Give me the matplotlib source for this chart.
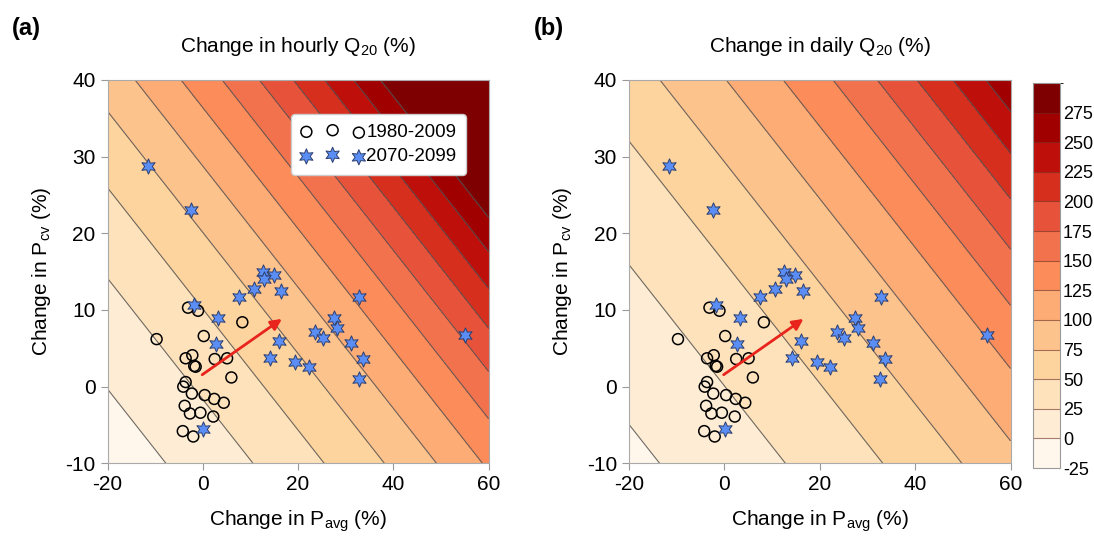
import numpy as np
import matplotlib
matplotlib.use('Agg')
import matplotlib.pyplot as plt
from matplotlib.colors import ListedColormap, BoundaryNorm
from matplotlib.cm import ScalarMappable

plt.rcParams['font.family'] = ['Liberation Sans', 'DejaVu Sans']
plt.rcParams['mathtext.default'] = 'regular'
plt.rcParams['axes.unicode_minus'] = False

# points (same in both panels)
hist_pavg = [-9.7, -3.1, -1.0, 8.3, 0.2, -3.6, -2.2, -1.8, -1.5, 2.5, 5.1, 6.0,
             -3.6, -4.1, -2.3, 0.4, 2.4, 4.4, -3.8, -2.7, -0.5, 2.2, -4.2, -2.0]
hist_pcv = [6.2, 10.3, 9.9, 8.4, 6.6, 3.7, 4.1, 2.7, 2.6, 3.6, 3.7, 1.2,
            0.6, 0.0, -0.9, -1.1, -1.6, -2.1, -2.5, -3.5, -3.4, -3.9, -5.8, -6.5]
fut_pavg = [-11.6, -2.4, 12.6, 14.9, 16.5, 10.7, 7.5, -1.8, 3.2, 32.8, 27.5, 28.1,
            23.6, 25.2, 55.0, 31.2, 33.7, 32.7, 16.1, 14.2, 19.4, 22.2, 2.7, 0.1, 12.9]
fut_pcv = [28.8, 23.1, 15.0, 14.5, 12.5, 12.8, 11.7, 10.7, 8.9, 11.7, 8.9, 7.7,
           7.1, 6.4, 6.7, 5.7, 3.6, 1.0, 5.9, 3.7, 3.2, 2.5, 5.5, -5.5, 14.0]

# response surface parameters (contour lines)
pcv_weight = 1.266
hourly = dict(u0=-20.4, k1=0.0122, k2=0.0)
daily = dict(u0=-26.2, k1=0.0082, k2=1.0e-5)

levels = np.arange(-25, 301, 25)
line_levels = np.arange(-25, 276, 25)
titles = ['Change in hourly Q$_{20}$ (%)', 'Change in daily Q$_{20}$ (%)']
panel_tags = ['(a)', '(b)']


def q20_change(x, y, u0, k1, k2):
    d = x + pcv_weight * y - u0
    return 100 * (np.exp(k1 * d + k2 * d ** 2) - 1)


cols = plt.get_cmap('OrRd')(np.linspace(0, 1, len(levels) - 1))
cmap = ListedColormap(cols)
cmap.set_over(cols[-1])
cmap.set_under(cols[0])
norm = BoundaryNorm(levels, cmap.N)

fig = plt.figure(figsize=(10.94, 5.44), dpi=100)
ax_a = fig.add_axes([0.0983, 0.1483, 0.3483, 0.7047])
ax_b = fig.add_axes([0.5748, 0.1483, 0.3489, 0.7047])
cax = fig.add_axes([0.9443, 0.1397, 0.0247, 0.7077])

xg = np.linspace(-20, 60, 400)
yg = np.linspace(-10, 40, 400)
X, Y = np.meshgrid(xg, yg)

for ax, pars, title, tag in zip([ax_a, ax_b], [hourly, daily], titles, panel_tags):
    Z = q20_change(X, Y, **pars)
    ax.contourf(X, Y, Z, levels=levels, cmap=cmap, norm=norm, extend='both')
    ax.contour(X, Y, Z, levels=line_levels, colors='#555555', linewidths=0.8, alpha=0.85)

    ax.scatter(hist_pavg, hist_pcv, s=62, facecolors='none', edgecolors='black',
               linewidths=1.1, zorder=3, label='1980-2009')
    ax.scatter(fut_pavg, fut_pcv, s=120, marker=(6, 1, 0), facecolors='#5b8ef5',
               edgecolors='#2c3e6e', linewidths=0.7, zorder=4, label='2070-2099')

    start = (np.mean(hist_pavg), np.mean(hist_pcv))
    end = (np.mean(fut_pavg), np.mean(fut_pcv))
    ax.annotate('', xy=end, xytext=start, zorder=5,
                arrowprops=dict(arrowstyle='-|>', color='#e8241c', lw=2, mutation_scale=16))

    ax.set_xlim(-20, 60)
    ax.set_ylim(-10, 40)
    ax.set_xticks([-20, 0, 20, 40, 60])
    ax.set_yticks([-10, 0, 10, 20, 30, 40])
    ax.tick_params(labelsize=15, direction='out', length=5, color='#999999')
    for sp in ax.spines.values():
        sp.set_color('#aaaaaa')
    ax.set_xlabel('Change in P$_{avg}$ (%)', fontsize=15, labelpad=10)
    ax.set_ylabel('Change in P$_{cv}$ (%)', fontsize=15, labelpad=9)
    ax.set_title(title, fontsize=15, pad=20)
    pos = ax.get_position()
    fig.text(pos.x0 - 0.087, 0.948, tag, fontsize=17, fontweight='bold', ha='left', va='center')

leg = ax_a.legend(loc='upper right', bbox_to_anchor=(0.965, 0.935), fontsize=13.5,
                  scatterpoints=3, handlelength=3.4, handletextpad=0.1,
                  borderpad=0.5, labelspacing=0.4, framealpha=1, edgecolor='#cccccc',
                  fancybox=True)

cb = fig.colorbar(ScalarMappable(norm=norm, cmap=cmap), cax=cax, ticks=levels[:-1],
                  drawedges=True)
cb.dividers.set_color('#6b2a20')
cb.dividers.set_alpha(0.6)
cb.dividers.set_linewidth(0.8)
cb.outline.set_edgecolor('#999999')
cax.tick_params(length=0, labelsize=13, pad=2)

fig.savefig('out.png', dpi=100)
